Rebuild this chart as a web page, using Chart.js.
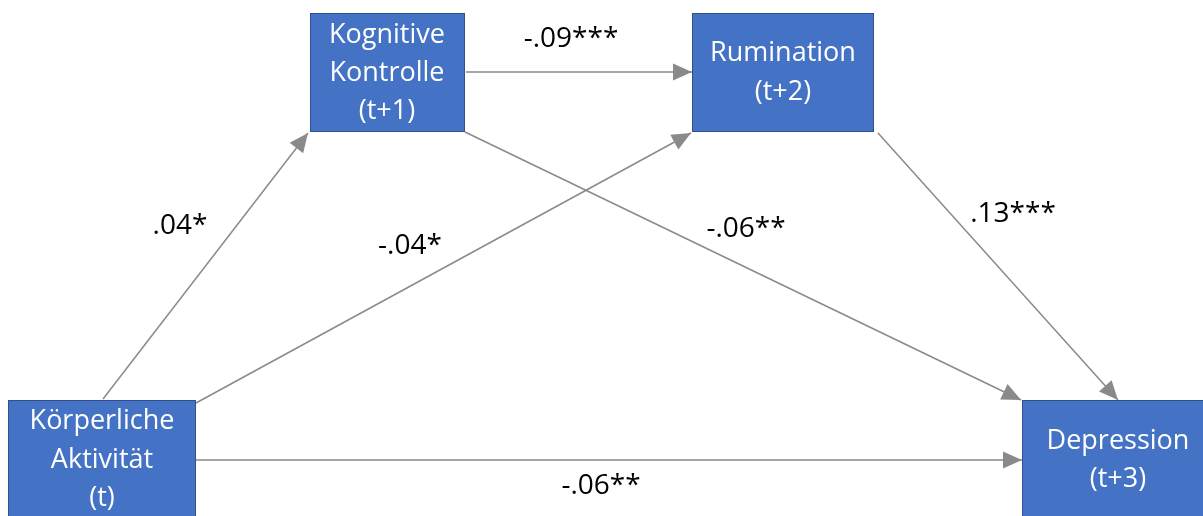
<!DOCTYPE html>
<html>
<head>
<meta charset="utf-8">
<script src="https://cdn.jsdelivr.net/npm/chart.js@4.4.1/dist/chart.umd.min.js"></script>
<style>
  html, body { margin: 0; padding: 0; background: #fff; overflow: hidden; }
  #wrap { width: 1203px; height: 516px; }
</style>
</head>
<body>
<div id="wrap"><canvas id="pfad" width="1203" height="516"></canvas></div>
<script>
// Knoten (Variablen) des Pfadmodells
const nodeNames = [
    ['Körperliche', 'Aktivität', '(t)'],
    ['Kognitive', 'Kontrolle', '(t+1)'],
    ['Rumination', '(t+2)'],
    ['Depression', '(t+3)']
];
// Pfade: von -> nach, mit Koeffizient
const pathFrom = [0, 0, 0, 1, 1, 2];
const pathTo = [1, 2, 3, 2, 3, 3];
const pathCoef = ['.04*', '-.04*', '-.06**', '-.09***', '-.06**', '.13***'];

// Layout im Koordinatensystem des Bildes (x nach rechts, y nach unten)
const boxLeft = [8, 310, 692, 1022];
const boxTop = [400, 13, 13, 400];
const boxRight = [196, 465, 874, 1215];
const boxBottom = [528, 132, 132, 528];
const textCenter = [102, 387, 783, 1118];
const pathStart = [[103, 399], [196, 403], [196, 460], [466, 72], [465, 132], [878, 133]];
const pathEnd = [[308, 133], [691, 133], [1022, 460], [692, 72], [1021, 400], [1118, 400]];
const coefPos = [[180, 226], [410, 246], [601, 486], [571, 39], [746, 229], [1013, 214]];
const lineHeights = [[421, 460, 498], [35, 73, 111], [53, 92], [441, 479]];

const lineColor = '#8a8a8a';
const boxColor = '#4472c4';

const datasets = pathFrom.map((f, i) => ({
    type: 'line',
    data: [
        { x: pathStart[i][0], y: pathStart[i][1] },
        { x: pathEnd[i][0], y: pathEnd[i][1] }
    ],
    borderColor: lineColor,
    borderWidth: 1.5,
    pointRadius: 0,
    fill: false
}));

const diagramPlugin = {
    id: 'diagram',
    afterDatasetsDraw(chart) {
        const c = chart.ctx;
        const sx = chart.scales.x, sy = chart.scales.y;
        c.save();

        // Pfeilspitzen
        for (let i = 0; i < pathFrom.length; i++) {
            const x0 = sx.getPixelForValue(pathStart[i][0]), y0 = sy.getPixelForValue(pathStart[i][1]);
            const x1 = sx.getPixelForValue(pathEnd[i][0]), y1 = sy.getPixelForValue(pathEnd[i][1]);
            const a = Math.atan2(y1 - y0, x1 - x0);
            const len = 19, half = 8.5;
            c.fillStyle = lineColor;
            c.beginPath();
            c.moveTo(x1, y1);
            c.lineTo(x1 - len * Math.cos(a) + half * Math.sin(a), y1 - len * Math.sin(a) - half * Math.cos(a));
            c.lineTo(x1 - len * Math.cos(a) - half * Math.sin(a), y1 - len * Math.sin(a) + half * Math.cos(a));
            c.closePath();
            c.fill();
        }

        // Kästen mit Beschriftung
        for (let i = 0; i < nodeNames.length; i++) {
            const l = sx.getPixelForValue(boxLeft[i]), r = sx.getPixelForValue(boxRight[i]);
            const t = sy.getPixelForValue(boxTop[i]), b = sy.getPixelForValue(boxBottom[i]);
            c.fillStyle = boxColor;
            c.fillRect(l, t, r - l, b - t);
            c.strokeStyle = '#2f528f';
            c.lineWidth = 1;
            c.strokeRect(l + 0.5, t + 0.5, r - l - 1, b - t - 1);
            c.fillStyle = '#ffffff';
            c.font = '27px "Open Sans"';
            c.textAlign = 'center';
            c.textBaseline = 'middle';
            const mid = sx.getPixelForValue(textCenter[i]);
            nodeNames[i].forEach((txt, k) => {
                c.fillText(txt, mid, sy.getPixelForValue(lineHeights[i][k]));
            });
        }

        // Koeffizienten
        c.fillStyle = '#000000';
        c.font = '28px "Open Sans"';
        c.textAlign = 'center';
        c.textBaseline = 'middle';
        pathCoef.forEach((txt, i) => {
            c.fillText(txt, sx.getPixelForValue(coefPos[i][0]), sy.getPixelForValue(coefPos[i][1]));
        });
        c.restore();
    }
};

new Chart(document.getElementById('pfad'), {
    type: 'scatter',
    data: { datasets: datasets },
    options: {
        responsive: false,
        animation: false,
        layout: { padding: 0 },
        plugins: { legend: { display: false }, tooltip: { enabled: false } },
        scales: {
            x: { type: 'linear', min: 0, max: 1203, display: false },
            y: { type: 'linear', min: 0, max: 516, reverse: true, display: false }
        }
    },
    plugins: [diagramPlugin]
});
</script>
</body>
</html>
